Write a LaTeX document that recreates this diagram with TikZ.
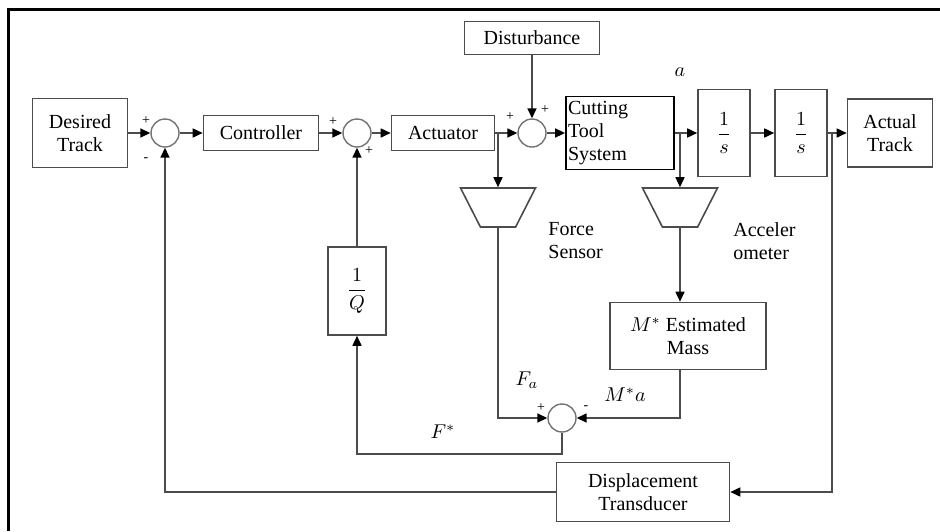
\documentclass[tikz,border=0pt]{standalone}
\usepackage{amsmath}
\usepackage{fontspec}
\setmainfont{Liberation Serif}
\usetikzlibrary{arrows.meta,shapes.geometric}

\begin{document}
\begin{tikzpicture}[x=0.5pt,y=-0.5pt,
    block/.style={draw=black!70, line width=0.8pt, fill=white, align=center,
      inner sep=1pt, font=\fontsize{10}{11.5}\selectfont},
    sumnode/.style={circle, draw=black!55, line width=0.7pt, minimum size=14pt, inner sep=0pt},
    sensor/.style={trapezium, draw=black!70, line width=0.8pt, shape border rotate=180,
      trapezium angle=63, inner xsep=8.8pt, inner ysep=9.75pt},
    sig/.style={draw=black!70, line width=0.8pt,
      -{Triangle[length=5pt,width=4.5pt,color=black]}},
    sign/.style={font=\fontsize{7}{7}\selectfont, inner sep=0pt},
    lbl/.style={font=\fontsize{10}{11.5}\selectfont, inner sep=0pt, align=left}]
  \useasboundingbox (0,0) rectangle (940,531);
  % cornice
  \draw[line width=1.5pt] (8,531) -- (8,9) -- (940,9);

  % blocchi del ramo diretto
  \node[block, minimum width=47.5pt, minimum height=34.5pt] (des) at (80,133) {Desired\\Track};
  \node[sumnode] (s1) at (165,133) {};
  \node[block, minimum width=57.5pt, minimum height=17.5pt] (ctrl) at (261,133) {Controller};
  \node[sumnode] (s2) at (357,133) {};
  \node[block, minimum width=51.5pt, minimum height=17.5pt] (act) at (443,133) {Actuator};
  \node[block, minimum width=67.5pt, minimum height=16.5pt] (dist) at (532,38) {Disturbance};
  \node[sumnode] (s3) at (532,133) {};
  \node[block, draw=black, line width=0.9pt, text width=52pt, align=left,
    minimum height=36.5pt] (cut) at (620,133) {Cutting\\Tool\\System};
  \node[block, minimum width=26pt, minimum height=43.5pt] (int1) at (724,133) {$\dfrac{1}{s}$};
  \node[block, minimum width=26pt, minimum height=43.5pt] (int2) at (801,133) {$\dfrac{1}{s}$};
  \node[block, minimum width=42.5pt, minimum height=34pt] (actual) at (890,133) {Actual\\Track};

  % sensori e retroazione
  \node[sensor] (fsens) at (498,207.5) {};
  \node[sensor] (acc) at (680,207.5) {};
  \node[block, minimum width=29pt, minimum height=44pt] (invq) at (357,291) {$\dfrac{1}{Q}$};
  \node[block, minimum width=78pt, minimum height=33.5pt] (mass) at (688,336) {$M^{*}$ Estimated\\Mass};
  \node[sumnode] (s4) at (562,418) {};
  \node[block, minimum width=86.5pt, minimum height=29.5pt] (disp) at (643,492) {Displacement\\Transducer};

  % punti di diramazione
  \coordinate (b1) at (498,133);
  \coordinate (b2) at (680,133);
  \coordinate (b3) at (832,133);

  % collegamenti
  \draw[sig] (des) -- (s1);
  \draw[sig] (s1) -- (ctrl);
  \draw[sig] (ctrl) -- (s2);
  \draw[sig] (s2) -- (act);
  \draw[sig] (act) -- (s3);
  \draw[sig] (b1) -- (fsens.north);
  \draw[sig] (dist) -- (s3);
  \draw[sig] (s3) -- (cut);
  \draw[sig] (cut) -- (int1);
  \draw[sig] (b2) -- (acc.north);
  \draw[sig] (int1) -- (int2);
  \draw[sig] (int2) -- (actual);
  \draw[sig] (b3) |- (disp.east);
  \draw[sig] (fsens.south) |- (s4.west);
  \draw[sig] (acc.south) -- (acc.south |- mass.north);
  \draw[sig] (mass.south -| acc.south) |- (s4.east);
  \draw[sig] (s4.south) -- ++(0,21) -| (invq.south);
  \draw[sig] (invq) -- (s2);
  \draw[sig] (disp.west) -| (s1.south);

  % segni dei sommatori
  \node[sign] (p1) at (146,121) {+};
  \node[sign] (m1) at (146,160) {-};
  \node[sign] (p2) at (333,122) {+};
  \node[sign] (p3) at (369,151) {+};
  \node[sign] (p4) at (510,117) {+};
  \node[sign] (p5) at (545,110) {+};
  \node[sign] (p6) at (541,408) {+};
  \node[sign] (m2) at (586,408) {-};

  % etichette dei segnali
  \node[lbl] (la) at (680,72) {$a$};
  \node[lbl] (lfa) at (527,380) {$F_a$};
  \node[lbl] (lma) at (625,395) {$M^{*}a$};
  \node[lbl] (lfs) at (443,432) {$F^{*}$};
  \node[lbl, anchor=west] (lforce) at (548,241) {Force\\Sensor};
  \node[lbl, anchor=west] (lacc) at (733,241) {Acceler\\ometer};
\end{tikzpicture}
\end{document}
